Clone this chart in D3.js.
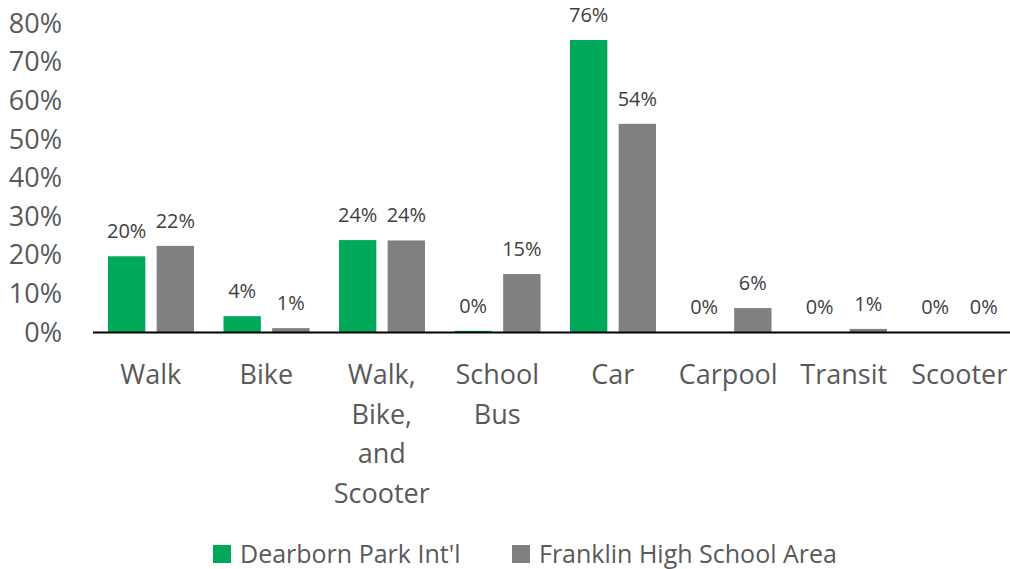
<html>
<head>
    <style>
        body {
            margin: 0;
            font-family: "Open Sans", "Liberation Sans", sans-serif;
            background: white;
        }
    </style>
    <script src="https://cdn.jsdelivr.net/npm/d3@7"></script>
</head>
<body>
    <svg id="chart"></svg>
</body>
<script>
    // chart data
    let categories = ["Walk", "Bike", "Walk, Bike, and Scooter", "School Bus", "Car", "Carpool", "Transit", "Scooter"]
    let categoryLines = [["Walk"], ["Bike"], ["Walk,", "Bike,", "and", "Scooter"], ["School", "Bus"], ["Car"], ["Carpool"], ["Transit"], ["Scooter"]]
    let seriesNames = ["Dearborn Park Int'l", "Franklin High School Area"]
    let dearborn = [19.6, 4.1, 23.8, 0.3, 75.6, 0, 0, 0]
    let franklin = [22.3, 1.0, 23.7, 15.0, 53.9, 6.2, 0.8, 0]
    let dearbornLabels = ["20%", "4%", "24%", "0%", "76%", "0%", "0%", "0%"]
    let franklinLabels = ["22%", "1%", "24%", "15%", "54%", "6%", "1%", "0%"]
    let yTicks = [0, 10, 20, 30, 40, 50, 60, 70, 80]
    let colors = ["#00a85a", "#808080"]

    function drawChart() {
        let width = 1010, height = 569
        let svg = d3.select("#chart").attr("width", width).attr("height", height)

        let x = d3.scaleBand().domain(categories).range([93, 1017])
        let inner = d3.scaleBand().domain([0, 1]).range([15, 101]).paddingInner(10 / 43)
        let y = d3.scaleLinear().domain([0, 80]).range([332, 23])

        // y axis labels
        svg.append("g").selectAll("text")
            .data(yTicks)
            .enter().append("text")
            .attr("x", 62)
            .attr("y", d => y(d))
            .attr("dy", "0.36em")
            .attr("text-anchor", "end")
            .attr("fill", "#595959")
            .style("font-size", "27px")
            .text(d => d + "%")

        let series = [dearborn, franklin]
        let labels = [dearbornLabels, franklinLabels]

        series.forEach((values, s) => {
            let g = svg.append("g")
            g.selectAll("rect")
                .data(values)
                .enter().append("rect")
                .attr("x", (d, i) => x(categories[i]) + inner(s))
                .attr("y", d => y(d))
                .attr("width", inner.bandwidth())
                .attr("height", d => y(0) - y(d))
                .attr("fill", colors[s])

            g.selectAll("text")
                .data(values)
                .enter().append("text")
                .attr("x", (d, i) => x(categories[i]) + inner(s) + inner.bandwidth() / 2)
                .attr("y", d => y(d) - 18)
                .attr("text-anchor", "middle")
                .attr("fill", "#404040")
                .style("font-size", "20px")
                .text((d, i) => labels[s][i])
        })

        // baseline
        svg.append("line")
            .attr("x1", 93).attr("x2", 1010)
            .attr("y1", y(0) + 0.5).attr("y2", y(0) + 0.5)
            .attr("stroke", "#000")
            .attr("stroke-width", 2)

        // category labels
        let cat = svg.append("g").selectAll("text")
            .data(categories)
            .enter().append("text")
            .attr("x", d => x(d) + x.bandwidth() / 2)
            .attr("y", 384)
            .attr("text-anchor", "middle")
            .attr("fill", "#595959")
            .style("font-size", "27px")

        cat.selectAll("tspan")
            .data((d, i) => categoryLines[i])
            .enter().append("tspan")
            .attr("x", function() { return d3.select(this.parentNode).attr("x") })
            .attr("dy", (d, i) => i == 0 ? 0 : 39.5)
            .text(d => d)

        // legend
        let legendX = [213, 512]
        let legend = svg.append("g").selectAll("g")
            .data(seriesNames)
            .enter().append("g")
            .attr("transform", (d, i) => `translate(${legendX[i]}, 545)`)

        legend.append("rect")
            .attr("width", 18).attr("height", 18)
            .attr("fill", (d, i) => colors[i])

        legend.append("text")
            .attr("x", 27)
            .attr("y", 9)
            .attr("dy", "0.35em")
            .attr("fill", "#595959")
            .style("font-size", "25px")
            .text(d => d)
    }

    drawChart()
</script>
</html>
